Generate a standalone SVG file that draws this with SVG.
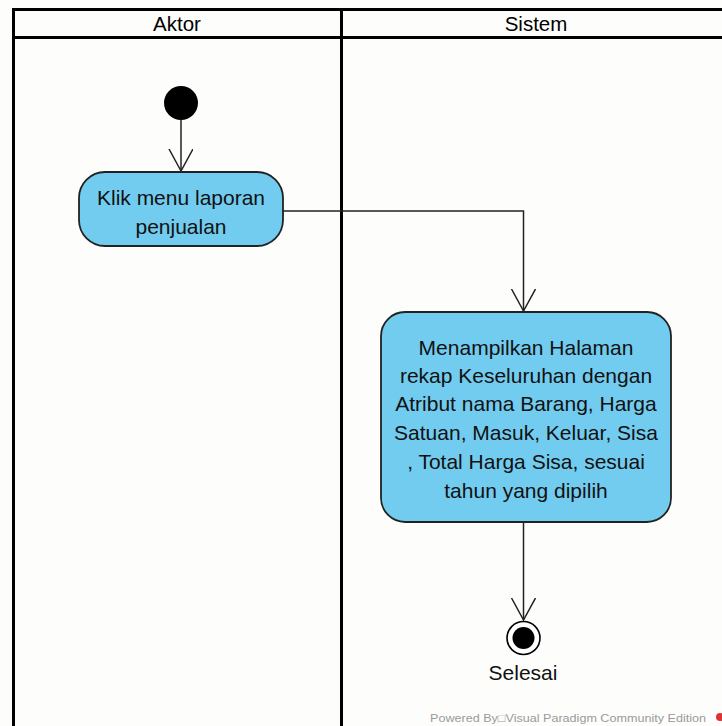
<svg xmlns="http://www.w3.org/2000/svg" width="722" height="726" viewBox="0 0 722 726">
  <style>
    .lane { fill: none; stroke: #000; stroke-width: 3; }
    .hdr { font-family: "Liberation Sans", Arial, sans-serif; font-size: 20.5px; fill: #000; text-anchor: middle; }
    .act { fill: #72ccf0; stroke: #222; stroke-width: 1.8; }
    .lbl { font-family: "Liberation Sans", Arial, sans-serif; font-size: 21px; fill: #111; text-anchor: middle; }
    .flow { fill: none; stroke: #222; stroke-width: 1.5; }
    .wm { font-family: "Liberation Sans", Arial, sans-serif; font-size: 11px; fill: #9a9a9a; }
  </style>
  <defs>
    <marker id="open" markerWidth="26" markerHeight="26" refX="22" refY="12" orient="auto" markerUnits="userSpaceOnUse">
      <path d="M0,0 L22,12 L0,24" fill="none" stroke="#222" stroke-width="1.5"/>
    </marker>
  </defs>
  <rect width="722" height="726" fill="#fdfefc"/>

  <!-- swimlanes -->
  <g id="lanes">
    <path class="lane" d="M13.5,726 V9.5 H722 M13.5,37.5 H722 M341.5,9.5 V726"/>
    <text class="hdr" x="177" y="31">Aktor</text>
    <text class="hdr" x="536" y="31">Sistem</text>
  </g>

  <!-- connectors -->
  <g id="connectors">
    <path class="flow" d="M181,120 V171" marker-end="url(#open)"/>
    <path class="flow" d="M283,211 H523.5 V311" marker-end="url(#open)"/>
    <path class="flow" d="M523.5,522 V620" marker-end="url(#open)"/>
  </g>

  <g id="start">
    <circle cx="181" cy="103" r="17" fill="#000"/>
  </g>

  <g id="klik-menu">
    <rect class="act" x="79" y="172" width="204" height="74" rx="26"/>
    <text class="lbl" x="181" y="205">Klik menu laporan</text>
    <text class="lbl" x="181" y="234">penjualan</text>
  </g>

  <g id="tampil-rekap">
    <rect class="act" x="381" y="312" width="290" height="210" rx="24"/>
    <text class="lbl" x="526" y="355">Menampilkan Halaman</text>
    <text class="lbl" x="526" y="383">rekap Keseluruhan dengan</text>
    <text class="lbl" x="526" y="411">Atribut nama Barang, Harga</text>
    <text class="lbl" x="526" y="440">Satuan, Masuk, Keluar, Sisa</text>
    <text class="lbl" x="526" y="469">, Total Harga Sisa, sesuai</text>
    <text class="lbl" x="526" y="498">tahun yang dipilih</text>
  </g>

  <g id="selesai">
    <circle cx="523.5" cy="638" r="16.5" fill="#fff" stroke="#000" stroke-width="1.6"/>
    <circle cx="523.5" cy="638" r="11" fill="#000"/>
    <text class="lbl" x="523" y="680">Selesai</text>
  </g>

  <text class="wm" x="430" y="722" textLength="276" lengthAdjust="spacingAndGlyphs">Powered By□Visual Paradigm Community Edition</text>
  <circle cx="720" cy="717" r="4" fill="#d33"/>
</svg>
